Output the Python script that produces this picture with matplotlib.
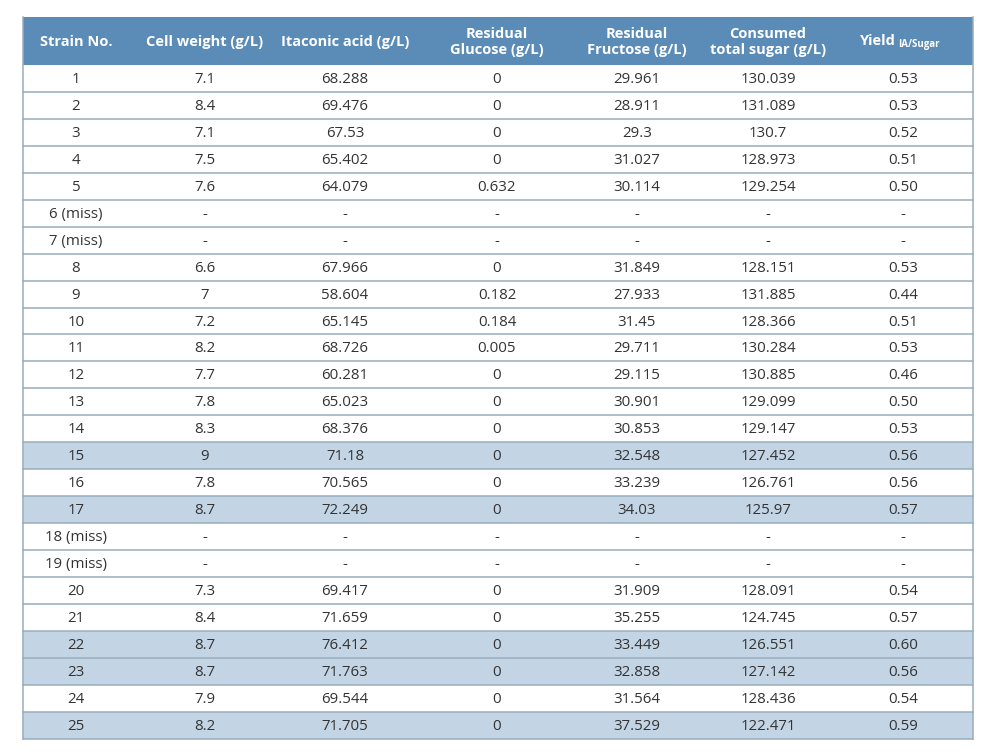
import matplotlib
matplotlib.use("Agg")
from matplotlib import pyplot as plt
from matplotlib.patches import Rectangle

# ---------------------------------------------------------------------------
# Data
# ---------------------------------------------------------------------------
headers = ["Strain No.", "Cell weight (g/L)", "Itaconic acid (g/L)",
           "Residual\nGlucose (g/L)", "Residual\nFructose (g/L)",
           "Consumed\ntotal sugar (g/L)", ""]
strain = ["1", "2", "3", "4", "5", "6 (miss)", "7 (miss)", "8", "9", "10", "11",
          "12", "13", "14", "15", "16", "17", "18 (miss)", "19 (miss)", "20",
          "21", "22", "23", "24", "25"]
cell_weight = ["7.1", "8.4", "7.1", "7.5", "7.6", "-", "-", "6.6", "7", "7.2", "8.2",
               "7.7", "7.8", "8.3", "9", "7.8", "8.7", "-", "-", "7.3",
               "8.4", "8.7", "8.7", "7.9", "8.2"]
itaconic = ["68.288", "69.476", "67.53", "65.402", "64.079", "-", "-", "67.966",
            "58.604", "65.145", "68.726", "60.281", "65.023", "68.376", "71.18",
            "70.565", "72.249", "-", "-", "69.417", "71.659", "76.412", "71.763",
            "69.544", "71.705"]
glucose = ["0", "0", "0", "0", "0.632", "-", "-", "0", "0.182", "0.184", "0.005",
           "0", "0", "0", "0", "0", "0", "-", "-", "0", "0", "0", "0", "0", "0"]
fructose = ["29.961", "28.911", "29.3", "31.027", "30.114", "-", "-", "31.849",
            "27.933", "31.45", "29.711", "29.115", "30.901", "30.853", "32.548",
            "33.239", "34.03", "-", "-", "31.909", "35.255", "33.449", "32.858",
            "31.564", "37.529"]
consumed = ["130.039", "131.089", "130.7", "128.973", "129.254", "-", "-", "128.151",
            "131.885", "128.366", "130.284", "130.885", "129.099", "129.147",
            "127.452", "126.761", "125.97", "-", "-", "128.091", "124.745",
            "126.551", "127.142", "128.436", "122.471"]
yield_ia = ["0.53", "0.53", "0.52", "0.51", "0.50", "-", "-", "0.53", "0.44", "0.51",
            "0.53", "0.46", "0.50", "0.53", "0.56", "0.56", "0.57", "-", "-", "0.54",
            "0.57", "0.60", "0.56", "0.54", "0.59"]
highlighted = ["15", "17", "22", "23", "25"]

columns = [strain, cell_weight, itaconic, glucose, fructose, consumed, yield_ia]

# ---------------------------------------------------------------------------
# Layout (pixel coordinates)
# ---------------------------------------------------------------------------
W, H = 998, 756
left, right = 23, 973
top, header_h, row_h = 17, 48, 26.95
col_x = [76, 205, 345, 497, 637, 768, 903]

header_color = "#5b8cb8"
hl_color = "#c3d4e4"
line_color = "#97adbd"
text_color = "#333333"
font = ["Open Sans", "DejaVu Sans"]

fig = plt.figure(figsize=(W / 100, H / 100), dpi=100)
ax = fig.add_axes([0, 0, 1, 1])
ax.set_xlim(0, W)
ax.set_ylim(H, 0)
ax.axis("off")

# header
ax.add_patch(Rectangle((left, top), right - left, header_h, facecolor=header_color,
                       edgecolor="none"))
for x, h in zip(col_x, headers):
    ax.text(x, top + header_h / 2 + 1, h, ha="center", va="center", color="white",
            fontsize=10.5, fontweight="bold", family=font, linespacing=1.15)
ax.text(896, top + header_h / 2, "Yield", ha="right", va="center",
        color="white", fontsize=10.5, fontweight="bold", family=font)
ax.text(898, top + header_h / 2 + 4, "IA/Sugar", ha="left", va="center",
        color="white", fontsize=7, fontweight="bold", family=font)

# rows
y0 = top + header_h
for i, name in enumerate(strain):
    y = y0 + i * row_h
    if name in highlighted:
        ax.add_patch(Rectangle((left, y), right - left, row_h, facecolor=hl_color,
                               edgecolor="none"))
    ax.plot([left, right], [y + row_h, y + row_h], color=line_color, lw=1.1)
    for x, col in zip(col_x, columns):
        ax.text(x, y + row_h / 2 + 1, col[i], ha="center", va="center",
                color=text_color, fontsize=10.8, family=font)

bottom = y0 + len(strain) * row_h
ax.plot([left, left], [top, bottom], color=line_color, lw=1.1)
ax.plot([right, right], [top, bottom], color=line_color, lw=1.1)

fig.savefig("out.png", dpi=100)
